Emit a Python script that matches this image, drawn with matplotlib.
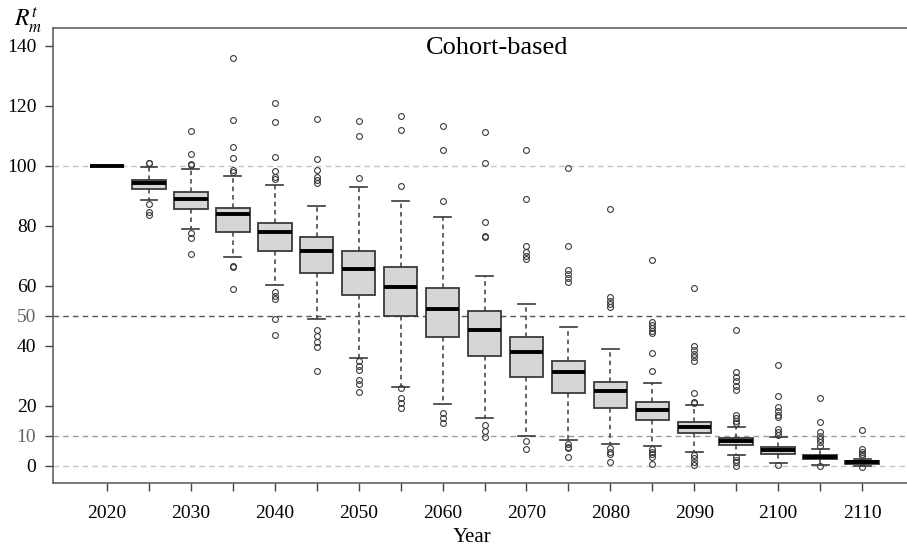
import matplotlib
matplotlib.use("Agg")
import matplotlib.pyplot as plt

plt.rcParams["font.family"] = "serif"
plt.rcParams["font.serif"] = ["Liberation Serif", "DejaVu Serif"]
plt.rcParams["mathtext.fontset"] = "stix"

years = list(range(2020, 2111, 5))
median = [100, 94.2, 89.0, 83.9, 78.1, 71.8, 65.8, 59.7, 52.5, 45.3,
          38.1, 31.2, 24.9, 18.7, 12.9, 8.2, 5.2, 3.0, 1.2]
q1 = [100, 92.2, 85.6, 78.1, 71.8, 64.4, 57.1, 50.1, 43.1, 36.7,
      29.6, 24.5, 19.3, 15.2, 11.0, 6.9, 4.0, 2.4, 0.8]
q3 = [100, 95.3, 91.3, 85.9, 80.9, 76.2, 71.8, 66.3, 59.3, 51.8,
      43.1, 35.1, 27.9, 21.4, 14.7, 9.4, 6.4, 3.6, 1.7]
whislo = [100, 88.7, 78.9, 69.6, 60.2, 48.9, 36.1, 26.4, 20.6, 15.9,
          10.0, 8.6, 7.2, 6.6, 4.8, 3.7, 1.1, 0.2, 0.0]
whishi = [100, 99.8, 99.1, 96.8, 93.7, 86.8, 93.1, 88.2, 83.0, 63.3,
          54.0, 46.2, 39.0, 27.7, 20.5, 13.1, 9.6, 5.7, 2.4]
outliers = [
    [],
    [101.1, 100.9, 87.3, 84.8, 83.7],
    [111.8, 104.0, 100.7, 100.3, 77.6, 75.9, 70.7],
    [136.1, 115.3, 106.4, 102.6, 98.7, 98.1, 66.8, 66.4, 58.9],
    [121.1, 114.6, 103.0, 98.4, 96.4, 95.8, 57.9, 56.8, 55.8, 48.9, 43.6],
    [115.7, 102.4, 98.7, 96.4, 95.3, 94.4, 45.2, 43.3, 41.4, 39.8, 31.7],
    [115.1, 110.0, 96.0, 35.0, 33.4, 32.0, 28.6, 27.3, 24.6],
    [116.8, 111.9, 93.3, 25.9, 22.6, 20.9, 19.2],
    [113.4, 105.3, 88.2, 17.7, 15.9, 14.3],
    [111.2, 101.1, 81.4, 76.7, 76.2, 13.7, 11.8, 9.8],
    [105.2, 89.1, 73.2, 71.4, 70.1, 68.9, 8.4, 5.8],
    [99.2, 73.3, 65.5, 64.1, 62.7, 61.3, 7.5, 6.4, 5.9, 2.9],
    [85.7, 56.4, 55.1, 54.0, 53.0, 5.9, 4.7, 4.0, 1.4],
    [68.7, 48.1, 47.1, 46.0, 44.9, 44.2, 37.6, 31.7, 5.8, 4.8, 4.0, 3.1, 0.7],
    [59.3, 40.0, 38.8, 37.5, 36.3, 35.0, 24.2, 21.4, 21.0, 3.6, 2.6, 1.4, 0.3],
    [45.3, 31.2, 29.8, 28.2, 26.7, 25.3, 16.9, 15.9, 15.1, 14.4, 2.9, 2.0, 1.2, 0.1],
    [33.6, 23.3, 19.8, 18.3, 17.0, 16.2, 12.2, 11.2, 10.2, 0.2],
    [22.8, 14.6, 11.3, 10.1, 9.0, 7.9, 6.8, 0.0],
    [12.0, 5.6, 4.8, 4.0, 3.2, -0.2],
]
y_ticks = [0, 10, 20, 40, 50, 60, 80, 100, 120, 140]
ref_levels = [0, 10, 50, 100]
ref_colors = ["#c4c4c4", "#9a9a9a", "#555555", "#c4c4c4"]

stats = []
for i in range(len(years)):
    stats.append({
        "med": median[i], "q1": q1[i], "q3": q3[i],
        "whislo": whislo[i], "whishi": whishi[i], "fliers": outliers[i],
    })

fig = plt.figure(figsize=(9.07, 5.51), dpi=100)
ax = fig.add_axes([53 / 907, 1 - 483 / 551, 1 - 53 / 907 + 0.01, 455 / 551])

edge = "#3a3a3a"
for lev, col in zip(ref_levels, ref_colors):
    ax.axhline(lev, color=col, lw=1.0, ls=(0, (4, 3)), zorder=0)

ax.bxp(stats, positions=years, widths=4.0, patch_artist=True,
       boxprops=dict(facecolor="#d6d6d6", edgecolor=edge, lw=1.3),
       medianprops=dict(color="black", lw=2.8, solid_capstyle="butt"),
       whiskerprops=dict(color=edge, lw=1.1, ls=(0, (3, 2.5))),
       capprops=dict(color=edge, lw=1.2),
       capwidths=2.0,
       flierprops=dict(marker="o", markersize=4.2, markerfacecolor="none",
                       markeredgecolor=edge, markeredgewidth=0.8),
       zorder=2)

ax.set_xlim(2020 - 5 * 54 / 42, 2020 + 5 * (917 - 107) / 42)
ax.set_ylim((466 - 483) / 3, (466 - 28) / 3)

ax.set_xticks(years)
ax.set_xticklabels([str(y) if y % 10 == 0 else "" for y in years])
ax.set_yticks(y_ticks)
ax.set_yticklabels([str(t) for t in y_ticks])
for lab, t in zip(ax.get_yticklabels(), y_ticks):
    if t in (10, 50):
        lab.set_color("#666666")
ax.tick_params(axis="both", direction="out", length=6, width=1.0,
               color="#444444", labelsize=14)
ax.tick_params(axis="x", pad=10)
ax.tick_params(axis="y", pad=6)

for side in ("left", "bottom", "top"):
    ax.spines[side].set_color("#555555")
    ax.spines[side].set_linewidth(1.1)
ax.spines["right"].set_visible(False)

ax.text(0.515, 0.955, "Cohort-based", transform=ax.transAxes,
        ha="center", va="center", fontsize=19)
fig.text(472 / 907, 1 - 538 / 551, "Year", ha="center", va="center",
         fontsize=15)
fig.text(28 / 907, 1 - 20 / 551, r"$R_m^t$", ha="center", va="center",
         fontsize=17)

fig.savefig("out.png", dpi=100)
